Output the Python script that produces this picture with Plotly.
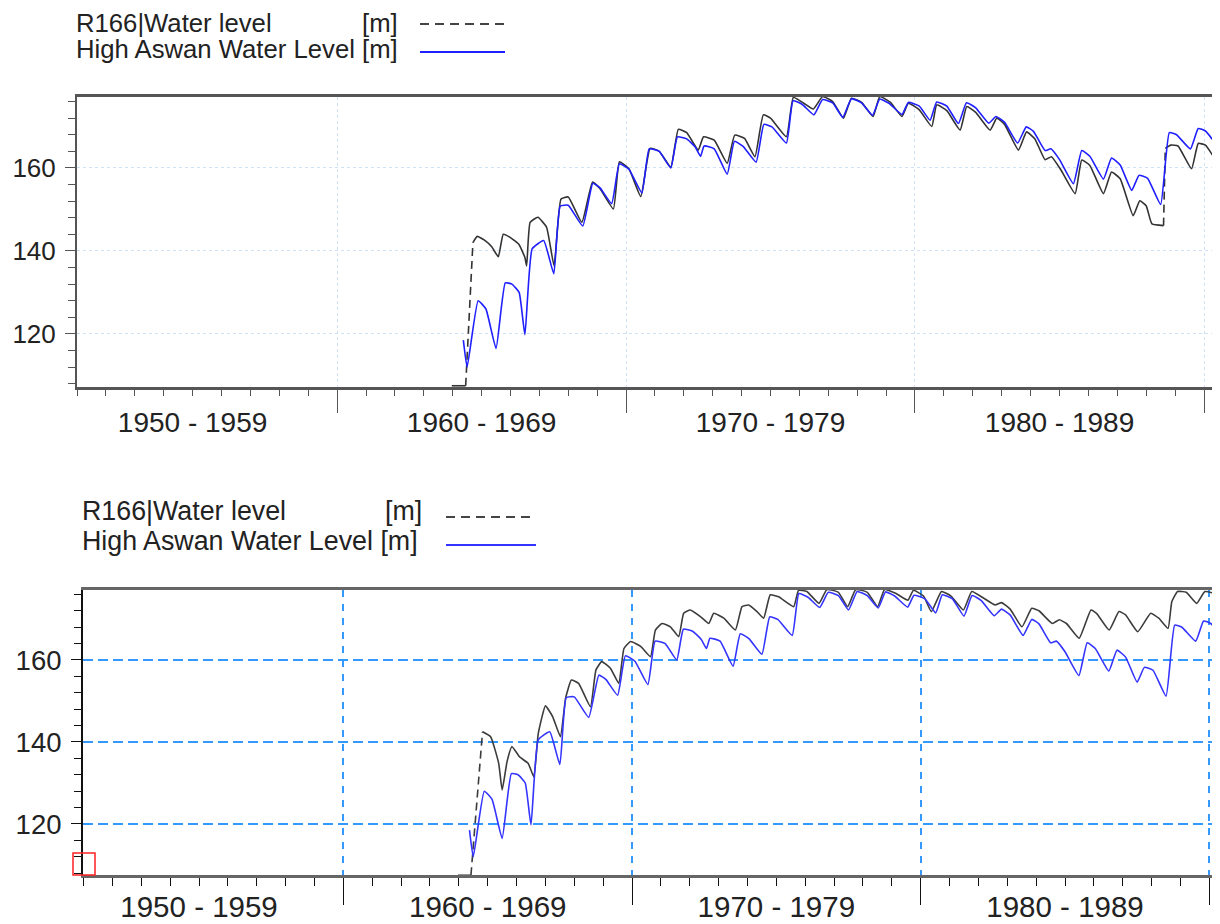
import datetime as dt
import plotly.graph_objects as go

# ===============================
# DATA (decimal years / metres)
# ===============================
# observed High Aswan water level (same series in both panels)
HA_YEARS = [
    1964.37, 1964.50, 1964.88, 1965.15, 1965.50, 1965.82, 1966.05, 1966.30, 1966.50,
    1966.75, 1967.15, 1967.50, 1967.72, 1968.00, 1968.50, 1968.85, 1969.10, 1969.50,
    1969.77, 1970.10, 1970.55, 1970.80, 1971.15, 1971.55, 1971.78, 1972.10, 1972.40,
    1972.58, 1972.70, 1973.05, 1973.50, 1973.75, 1974.05, 1974.50, 1974.77, 1975.05,
    1975.55, 1975.78, 1976.10, 1976.50, 1976.80, 1977.15, 1977.50, 1977.80, 1978.15,
    1978.53, 1978.78, 1979.10, 1979.55, 1979.77, 1980.15, 1980.52, 1980.75, 1981.10,
    1981.50, 1981.78, 1982.10, 1982.55, 1982.80, 1983.10, 1983.55, 1983.85, 1984.10,
    1984.50, 1984.70, 1985.00, 1985.48, 1985.77, 1986.05, 1986.52, 1986.80, 1987.10,
    1987.50, 1987.75, 1988.05, 1988.50, 1988.80, 1989.05, 1989.53, 1989.80, 1990.05,
    1990.55,
]
HA_LEVEL = [
    118.5, 112.0, 128.0, 126.0, 116.5, 132.3, 132.0, 130.0, 119.8,
    140.5, 142.5, 134.5, 150.8, 151.0, 146.0, 156.3, 155.2, 151.4,
    161.0, 159.7, 154.0, 164.6, 164.0, 160.0, 167.5, 167.0, 165.0,
    162.8, 165.3, 164.6, 158.5, 166.4, 165.2, 161.4, 170.5, 169.9,
    166.0, 176.2, 175.3, 172.8, 176.5, 175.7, 172.2, 176.7, 175.7,
    172.7, 176.6, 175.6, 172.9, 175.8, 174.9, 171.5, 175.9, 174.9,
    170.7, 175.7, 174.5, 170.8, 172.4, 171.0, 166.0, 169.9, 168.8,
    164.2, 164.6, 162.0, 156.2, 164.2, 162.8, 157.3, 162.4, 160.7,
    154.6, 158.2, 157.5, 151.2, 168.5, 168.0, 164.6, 169.5, 168.9,
    164.5,
]

# R166 simulated water level, first run (upper panel)
R166_A_YEARS = [
    1963.97, 1964.45, 1964.70, 1964.85, 1965.10, 1965.35, 1965.58, 1965.75, 1966.00,
    1966.30, 1966.50, 1966.56, 1966.68, 1966.95, 1967.25, 1967.51, 1967.75, 1968.00,
    1968.47, 1968.84, 1969.10, 1969.56, 1969.77, 1970.10, 1970.51, 1970.83, 1971.15,
    1971.55, 1971.81, 1972.10, 1972.50, 1972.68, 1973.05, 1973.50, 1973.76, 1974.10,
    1974.46, 1974.75, 1975.00, 1975.55, 1975.79, 1976.15, 1976.48, 1976.80, 1977.15,
    1977.52, 1977.80, 1978.15, 1978.55, 1978.78, 1979.15, 1979.55, 1979.77, 1980.15,
    1980.58, 1980.75, 1981.10, 1981.56, 1981.79, 1982.10, 1982.60, 1982.83, 1983.10,
    1983.58, 1983.86, 1984.15, 1984.50, 1984.72, 1985.05, 1985.54, 1985.77, 1986.05,
    1986.52, 1986.80, 1987.10, 1987.55, 1987.78, 1988.00, 1988.20, 1988.60, 1988.66,
    1988.85, 1989.10, 1989.57, 1989.80, 1990.05, 1990.55,
]
R166_A_LEVEL = [
    107.5, 107.5, 142.0, 143.5, 142.6, 141.0, 138.6, 144.0, 143.2,
    141.5, 138.4, 136.4, 146.9, 148.1, 145.7, 136.4, 152.5, 153.0,
    146.9, 156.6, 155.0, 150.1, 161.5, 159.8, 153.1, 164.7, 164.0,
    160.2, 169.3, 168.5, 164.3, 167.5, 166.7, 161.1, 167.9, 167.1,
    162.7, 172.8, 172.0, 167.5, 177.0, 175.6, 174.2, 177.2, 176.0,
    172.0, 176.8, 175.8, 172.4, 177.2, 175.8, 172.4, 175.6, 174.0,
    170.0, 175.2, 173.8, 169.1, 174.8, 173.4, 169.1, 172.0, 170.5,
    164.3, 168.7, 167.0, 162.0, 162.7, 159.5, 153.8, 161.9, 160.6,
    153.8, 159.0, 157.4, 148.5, 152.1, 150.9, 146.5, 146.1, 164.7,
    165.5, 165.3, 159.8, 165.9, 165.5, 160.2,
]

# R166 simulated water level, second run (lower panel)
R166_B_YEARS = [
    1963.97, 1964.42, 1964.82, 1965.10, 1965.38, 1965.50, 1965.67, 1965.84, 1966.10,
    1966.40, 1966.60, 1966.75, 1967.00, 1967.25, 1967.52, 1967.70, 1967.90, 1968.15,
    1968.56, 1968.75, 1968.95, 1969.25, 1969.54, 1969.72, 1969.95, 1970.30, 1970.64,
    1970.81, 1971.04, 1971.33, 1971.62, 1971.79, 1972.02, 1972.37, 1972.66, 1972.83,
    1973.18, 1973.58, 1973.81, 1974.04, 1974.33, 1974.56, 1974.79, 1975.08, 1975.60,
    1975.77, 1976.06, 1976.48, 1976.75, 1977.15, 1977.47, 1977.75, 1978.15, 1978.51,
    1978.75, 1979.15, 1979.56, 1979.75, 1980.10, 1980.37, 1980.72, 1981.05, 1981.48,
    1981.77, 1982.20, 1982.58, 1982.80, 1983.10, 1983.51, 1983.85, 1984.10, 1984.56,
    1984.80, 1985.05, 1985.49, 1985.90, 1986.10, 1986.53, 1986.87, 1987.10, 1987.52,
    1987.97, 1988.25, 1988.57, 1988.70, 1988.90, 1989.20, 1989.56, 1989.85, 1990.55,
]
R166_B_LEVEL = [
    107.5, 107.5, 142.5, 141.3, 134.8, 128.3, 135.2, 138.9, 136.4,
    134.8, 131.5, 142.0, 148.8, 146.2, 141.3, 150.7, 155.1, 154.3,
    148.6, 157.6, 159.6, 158.0, 154.3, 162.8, 164.5, 163.3, 160.8,
    167.3, 168.9, 168.1, 165.7, 171.4, 172.2, 170.6, 168.9, 171.4,
    170.2, 167.3, 173.0, 173.4, 171.8, 170.2, 175.9, 175.4, 173.0,
    177.0, 176.7, 173.8, 177.2, 176.5, 173.0, 177.2, 176.5, 173.0,
    177.2, 176.2, 174.6, 177.0, 175.6, 171.8, 176.7, 175.6, 172.2,
    176.7, 175.0, 173.4, 174.0, 172.4, 168.1, 172.6, 172.0, 168.9,
    169.8, 168.9, 165.3, 172.2, 171.3, 167.3, 171.8, 171.0, 166.9,
    171.4, 170.2, 167.7, 174.2, 176.7, 176.5, 173.8, 176.7, 175.4,
]

# decade labels sit in the middle of each decade
DECADE_MID = [1955.0, 1965.0, 1975.0, 1985.0]
DECADE_TEXT = ["1950 - 1959", "1960 - 1969", "1970 - 1979", "1980 - 1989"]

NAME_R166 = "R166|Water level"
NAME_HA = "High Aswan Water Level [m]"
UNIT = "[m]"

FONT = "Arial, Liberation Sans, sans-serif"
# the page body keeps its 8px margin, so the figure is 8px smaller and
# every screen position below is shifted by that offset
OFF = 8
W, H = 1220 - OFF, 924 - OFF


def to_date(y):
    yr = int(y)
    start = dt.datetime(yr, 1, 1)
    return start + (dt.datetime(yr + 1, 1, 1) - start) * (y - yr)


def split_jumps(years, levels, limit=17):
    """MIKE style: long jumps are drawn dashed, the rest looks solid"""
    sx, sy, jx, jy = [], [], [], []
    for i in range(len(years)):
        if i > 0 and abs(levels[i] - levels[i - 1]) > limit:
            jx += [to_date(years[i - 1]), to_date(years[i]), None]
            jy += [levels[i - 1], levels[i], None]
            sx.append(None)
            sy.append(None)
        sx.append(to_date(years[i]))
        sy.append(levels[i])
    return sx, sy, jx, jy


def px_x(p):
    return (p - OFF) / W


def px_y(p):
    return 1 - (p - OFF) / H


fig = go.Figure()

# ===============================
# PANELS
# ===============================
panels = [
    dict(xa="x", xl="x3", ya="y", years=R166_A_YEARS, levels=R166_A_LEVEL,
         black="#333333", blue="#1f1fff"),
    dict(xa="x2", xl="x4", ya="y2", years=R166_B_YEARS, levels=R166_B_LEVEL,
         black="#3c3c3c", blue="#3434ff"),
]

for p in panels:
    sx, sy, jx, jy = split_jumps(p["years"], p["levels"])
    fig.add_trace(go.Scatter(
        x=sx, y=sy, mode="lines", xaxis=p["xa"], yaxis=p["ya"],
        line=dict(color=p["black"], width=1.6, shape="spline", smoothing=0.4),
        hoverinfo="skip"
    ))
    fig.add_trace(go.Scatter(
        x=jx, y=jy, mode="lines", xaxis=p["xa"], yaxis=p["ya"],
        line=dict(color=p["black"], width=1.6, dash="8px,5px"), hoverinfo="skip"
    ))
    # observed series goes on the label axis (same range) so that axis gets drawn
    fig.add_trace(go.Scatter(
        x=[to_date(v) for v in HA_YEARS], y=HA_LEVEL, mode="lines",
        xaxis=p["xl"], yaxis=p["ya"],
        line=dict(color=p["blue"], width=1.6, shape="spline", smoothing=0.4),
        hoverinfo="skip"
    ))


def x_axis(left, right, yname, x0, x1, style):
    return dict(
        domain=[px_x(left), px_x(right)], anchor=yname, type="date",
        range=[to_date(x0), to_date(x1)],
        tick0="1950-01-01", dtick="M120", showticklabels=False,
        ticks="outside", ticklen=style["xticklen"], tickwidth=1.3,
        tickcolor=style["tick"],
        showline=True, linecolor=style["xline"], linewidth=2.5, mirror=True,
        showgrid=True, gridcolor=style["grid"], gridwidth=style["gridw"],
        griddash=style["xdash"],
        minor=dict(dtick="M12", tick0="1950-01-01", ticks="outside",
                   ticklen=style["minorlen"], tickcolor=style["tick"],
                   tickwidth=1.2, showgrid=False),
        zeroline=False, fixedrange=True, automargin=False,
    )


def x_label_axis(over, yname, x0, x1, style):
    return dict(
        overlaying=over, anchor=yname, side="bottom", type="date",
        range=[to_date(x0), to_date(x1)],
        tickmode="array", tickvals=[to_date(v) for v in DECADE_MID],
        ticktext=DECADE_TEXT, ticks="",
        ticklabelstandoff=style["xstand"],
        tickfont=dict(family=FONT, size=style["xfont"], color="#222"),
        showline=False, showgrid=False, zeroline=False,
        fixedrange=True, automargin=False,
    )


def y_axis(top, bottom, xname, y0, y1, style):
    return dict(
        domain=[px_y(bottom), px_y(top)], anchor=xname,
        range=[y0, y1], tick0=0, dtick=20,
        ticks="outside", ticklen=10, tickwidth=1.3, tickcolor=style["tick"],
        ticklabelstandoff=style["ystand"],
        tickfont=dict(family=FONT, size=style["yfont"], color="#222"),
        showline=True, linecolor=style["yline"], linewidth=2,
        showgrid=True, gridcolor=style["grid"], gridwidth=style["gridw"],
        griddash=style["ydash"],
        minor=dict(dtick=4, tick0=0, ticks="outside", ticklen=7,
                   tickcolor=style["tick"], tickwidth=1.2, showgrid=False),
        zeroline=False, fixedrange=True, automargin=False,
    )


top_style = dict(tick="#555", xline="#555", yline="#555", grid="#cfe2f7",
                 gridw=1, xdash="dot", ydash="dot", xticklen=23, minorlen=6,
                 xfont=28, yfont=26, xstand=16, ystand=4)
bot_style = dict(tick="#111", xline="#666", yline="#111", grid="#3399ff",
                 gridw=2, xdash="7px,7px", ydash="10px,5px", xticklen=27,
                 minorlen=8, xfont=29.5, yfont=27.5, xstand=11, ystand=4)

fig.update_layout(
    xaxis=x_axis(77, 1220, "y", 1951.0, 1990.554, top_style),
    yaxis=y_axis(97, 387, "x", 107.2, 177.1, top_style),
    xaxis3=x_label_axis("x", "y", 1951.0, 1990.554, top_style),
    xaxis2=x_axis(83, 1220, "y2", 1950.98, 1990.37, bot_style),
    yaxis2=y_axis(590, 875, "x2", 107.56, 177.07, bot_style),
    xaxis4=x_label_axis("x2", "y2", 1950.98, 1990.37, bot_style),
)

# ===============================
# LEGENDS (text columns + line samples)
# ===============================
legends = [
    dict(left=74, unit_right=400, rows=(23, 49), size=25.7,
         line_x=(420, 505), line_y=(24, 52), blue="#1f1fff"),
    dict(left=80, unit_right=424, rows=(511, 541), size=26.8,
         line_x=(446, 536), line_y=(517, 545), blue="#3434ff"),
]
shapes = []
annotations = []
for lg in legends:
    for text, xpos, anchor, row in [
        (NAME_R166, lg["left"], "left", 0),
        (UNIT, lg["unit_right"], "right", 0),
        (NAME_HA, lg["left"], "left", 1),
    ]:
        annotations.append(dict(
            text=text, xref="paper", yref="paper",
            x=px_x(xpos), y=px_y(lg["rows"][row]),
            xanchor=anchor, yanchor="middle", showarrow=False,
            font=dict(family=FONT, size=lg["size"], color="#222"),
        ))
    shapes.append(dict(
        type="line", xref="paper", yref="paper",
        x0=px_x(lg["line_x"][0]), x1=px_x(lg["line_x"][1]),
        y0=px_y(lg["line_y"][0]), y1=px_y(lg["line_y"][0]),
        line=dict(color="#444", width=2, dash="9px,6px"),
    ))
    shapes.append(dict(
        type="line", xref="paper", yref="paper",
        x0=px_x(lg["line_x"][0]), x1=px_x(lg["line_x"][1]),
        y0=px_y(lg["line_y"][1]), y1=px_y(lg["line_y"][1]),
        line=dict(color=lg["blue"], width=2),
    ))

# red selection marker at the lower panel origin
shapes.append(dict(
    type="rect", xref="paper", yref="paper",
    x0=px_x(73), x1=px_x(95), y0=px_y(875), y1=px_y(853),
    line=dict(color="#ff2020", width=1.5), fillcolor="rgba(0,0,0,0)",
))

fig.update_layout(
    width=W, height=H,
    margin=dict(l=0, r=0, t=0, b=0, autoexpand=False),
    paper_bgcolor="white", plot_bgcolor="white",
    showlegend=False,
    shapes=shapes, annotations=annotations,
    font=dict(family=FONT),
)

fig.write_html("out.html")
